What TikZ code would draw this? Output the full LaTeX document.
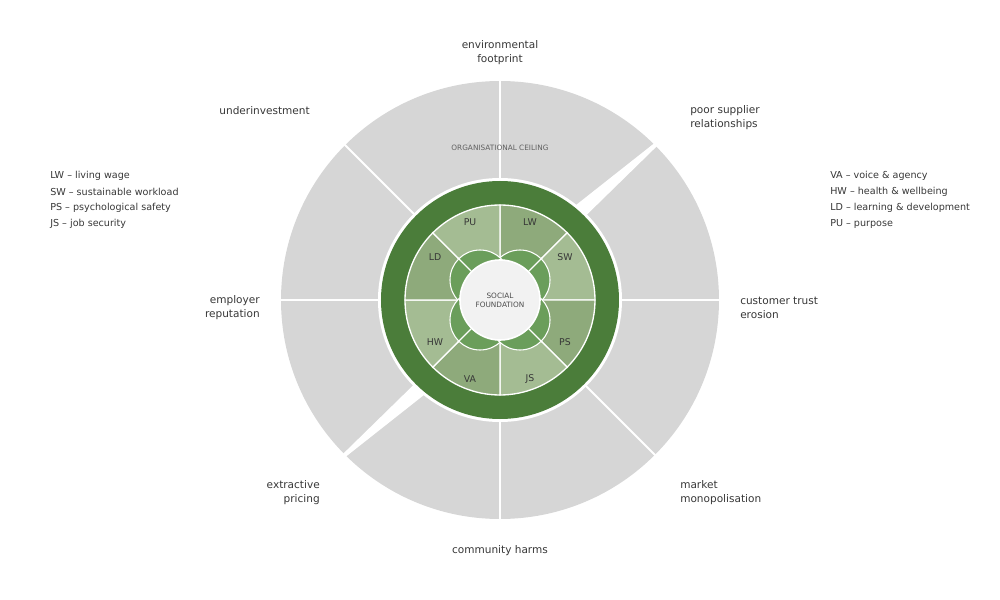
\documentclass[tikz,border=0pt]{standalone}
\usepackage{fontspec}
\setmainfont{DejaVu Sans}
\usetikzlibrary{calc, positioning}
\definecolor{ceilgrey}{RGB}{214,214,214}
\definecolor{ringgreen}{RGB}{75,125,58}
\definecolor{lobegreen}{RGB}{107,158,91}
\definecolor{segdark}{RGB}{142,170,123}
\definecolor{seglight}{RGB}{164,188,147}
\definecolor{coregrey}{RGB}{242,242,242}
\definecolor{txtgrey}{RGB}{55,55,55}

\begin{document}
\begin{tikzpicture}[x=0.75pt, y=0.75pt,
  lbl/.style={text=txtgrey, font=\fontsize{7.9}{10.5}\selectfont, inner sep=0pt},
  legend/.style={text=txtgrey, font=\fontsize{7.2}{9}\selectfont, anchor=west, inner sep=0pt},
  seglbl/.style={text=txtgrey, font=\fontsize{7}{8}\selectfont},
  tiny/.style={font=\fontsize{5.5}{7.5}\selectfont, align=center}]
  \useasboundingbox (-500,-300) rectangle (500,300);
  % ceiling ring
  \fill[ceilgrey] (0,0) circle (219);
  \foreach \a in {0,90,135,180,270,315}
    \draw[white, line width=1.4pt] (0,0) -- (\a:223);
  \fill[white] (159.4,160.8) -- (161.7,158.5) -- (81.6,80.2) -- (71,91) -- cycle;
  \fill[white] (-159.4,-160.8) -- (-161.7,-158.5) -- (-81.6,-80.2) -- (-71,-91) -- cycle;
  \node[tiny, text=black!62] (ceiling) at (0,152) {ORGANISATIONAL CEILING};
  % foundation ring
  \fill[white] (0,0) circle (122);
  \fill[ringgreen] (0,0) circle (119);
  % segments
  \foreach \a/\c in {45/segdark, 0/seglight, -45/segdark, -90/seglight,
                     -135/segdark, 180/seglight, 135/segdark, 90/seglight}
    \filldraw[fill=\c, draw=white, line width=1pt]
      (0,0) -- (\a:95) arc[start angle=\a, end angle=\a+45, radius=95] -- cycle;
  % lobes
  \foreach \x/\y in {20/20, -20/20, -20/-20, 20/-20}
    \filldraw[fill=lobegreen, draw=white, line width=0.8pt] (\x,\y) circle (30);
  \foreach \a in {45,135,225,315}
    \draw[white, line width=1pt] (0,0) -- (\a:60);
  % core
  \filldraw[fill=coregrey, draw=white, line width=1.2pt] (0,0) circle (40);
  \node[tiny, text=black!70] (core) at (0,0) {SOCIAL\\[-1pt]FOUNDATION};
  % segment labels
  \foreach \t/\x/\y in {PU/-30/78, LW/30/78, SW/65/43, PS/65/-42,
                        JS/30/-79, VA/-30/-79, HW/-65/-42, LD/-65/43}
    \node[seglbl] (seg-\t) at (\x,\y) {\t};
  % outer labels
  \node[lbl, align=center] (envfoot) at (0,247) {environmental\\footprint};
  \node[lbl, anchor=east] (underinv) at (-190,189) {underinvestment};
  \node[lbl, anchor=west, align=left] (poorsup) at (190,182) {poor supplier\\relationships};
  \node[lbl, anchor=west, align=left] (custtrust) at (240,-8) {customer trust\\erosion};
  \node[lbl, anchor=west, align=left] (marketmono) at (180,-193) {market\\monopolisation};
  \node[lbl] (commharms) at (0,-251) {community harms};
  \node[lbl, anchor=east, align=right] (extrprice) at (-180,-193) {extractive\\pricing};
  \node[lbl, anchor=east, align=right] (emplrep) at (-240,-8) {employer\\reputation};
  % legends
  \node[legend] (leg-lw) at (-450,124) {LW – living wage};
  \node[legend] (leg-sw) at (-450,108) {SW – sustainable workload};
  \node[legend] (leg-ps) at (-450,92) {PS – psychological safety};
  \node[legend] (leg-js) at (-450,76) {JS – job security};
  \node[legend] (leg-va) at (330,124) {VA – voice \& agency};
  \node[legend] (leg-hw) at (330,108) {HW – health \& wellbeing};
  \node[legend] (leg-ld) at (330,92) {LD – learning \& development};
  \node[legend] (leg-pu) at (330,76) {PU – purpose};
\end{tikzpicture}
\end{document}
